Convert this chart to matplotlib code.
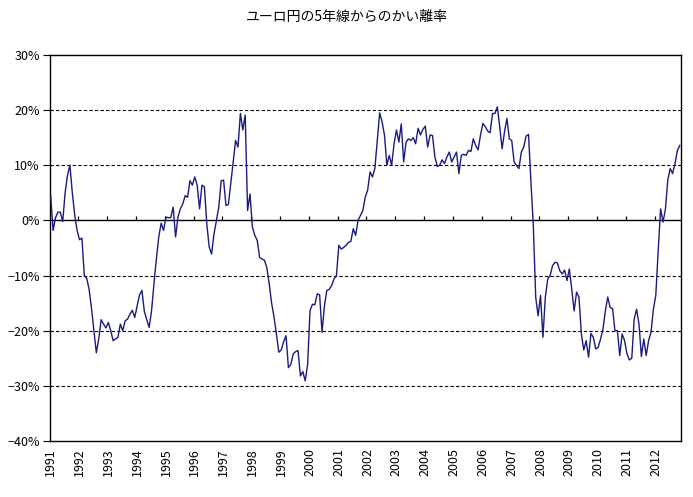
import numpy as np
import matplotlib
matplotlib.use("Agg")
import matplotlib.pyplot as plt

plt.rcParams['font.family'] = ['Noto Sans CJK JP', 'DejaVu Sans']

# ユーロ円の5年移動平均線からのかい離率 (%), 月次, 1991年1月から
dev_1991 = [4.4, -1.8, 0.5, 1.5, 1.5, -0.2, 5, 8.2, 10, 5, 1, -1.8]
dev_1992 = [-3.5, -3.2, -10, -10.5, -12.5, -16, -20, -24, -21.5, -18, -18.8, -19.5]
dev_1993 = [-18.5, -20, -21.8, -21.5, -21.2, -18.8, -20, -18.2, -17.9, -17, -16.3, -17.6]
dev_1994 = [-15.5, -13.5, -12.7, -16.5, -18, -19.4, -16.4, -11.5, -7, -3, -0.5, -1.8]
dev_1995 = [0.6, 0.5, 0.5, 2.4, -3, 0.6, 2.1, 3, 4.5, 4.2, 7.2, 6.4]
dev_1996 = [7.9, 6.4, 2.1, 6.4, 6.1, -0.6, -4.8, -6.1, -2.5, 0, 2.4, 7.2]
dev_1997 = [7.3, 2.7, 2.9, 6.7, 10.6, 14.5, 13.3, 19.4, 16.4, 19.1, 1.8, 4.8]
dev_1998 = [-1.2, -2.7, -3.6, -6.7, -7, -7.2, -8.5, -11.5, -15, -17.5, -20.6, -23.9]
dev_1999 = [-23.5, -22, -20.9, -26.7, -26.1, -24.2, -23.8, -23.6, -28.2, -27.4, -29.1, -26.1]
dev_2000 = [-16.4, -15.2, -15.3, -13.3, -13.5, -20.3, -15.5, -12.7, -12.5, -11.8, -10.6, -10]
dev_2001 = [-4.5, -5.2, -4.9, -4.5, -4, -3.8, -1.5, -2.7, 0, 0.9, 1.8, 4.2]
dev_2002 = [5.5, 8.8, 7.9, 9.4, 14.5, 19.5, 17.9, 15.5, 10, 11.8, 10, 13.9]
dev_2003 = [16.4, 14.2, 17.5, 10.6, 14.2, 14.8, 14.5, 15, 13.9, 16.7, 15.5, 16.5]
dev_2004 = [17.1, 13.3, 15.5, 15.4, 11.5, 9.8, 10, 11, 10.3, 11.5, 12.4, 10.6]
dev_2005 = [11.5, 12.4, 8.5, 11.8, 12, 11.8, 12.7, 12.5, 14.8, 13.6, 12.8, 15.5]
dev_2006 = [17.6, 17, 16.2, 15.9, 19.4, 19.4, 20.6, 17, 13, 16.1, 18.5, 14.8]
dev_2007 = [14.5, 10.6, 10, 9.4, 12.4, 13.3, 15.3, 15.6, 7, -1, -14, -17.3]
dev_2008 = [-13.6, -21.2, -13.9, -10.6, -10, -8.2, -7.6, -7.7, -9.1, -9.7, -9, -10.9]
dev_2009 = [-8.8, -12.5, -16.4, -13, -13.9, -20.5, -23.5, -21.8, -24.8, -20.5, -21.2, -23.3]
dev_2010 = [-23, -21.5, -19.7, -16.4, -13.9, -15.8, -16, -20, -20, -24.5, -20.6, -21.8]
dev_2011 = [-24.2, -25.3, -25, -17.9, -16.1, -18.8, -24.7, -21.5, -24.5, -21.8, -20.3, -16.1]
dev_2012 = [-13.6, -5.5, 2.1, -0.3, 2, 7.3, 9.4, 8.5, 10.3, 12.7, 13.6]

years = list(range(1991, 2013))
yearly = [dev_1991, dev_1992, dev_1993, dev_1994, dev_1995, dev_1996, dev_1997,
          dev_1998, dev_1999, dev_2000, dev_2001, dev_2002, dev_2003, dev_2004,
          dev_2005, dev_2006, dev_2007, dev_2008, dev_2009, dev_2010, dev_2011,
          dev_2012]
values = np.concatenate(yearly)
x = np.arange(len(values))

fig = plt.figure(figsize=(6.93, 4.97), dpi=100)
ax = fig.add_axes([49.5 / 693, 56 / 497, 631.5 / 693, 386 / 497])

# 目盛線
for v in [-30, -20, -10, 10, 20]:
    ax.axhline(v, color='black', lw=0.8, ls=(0, (3, 2)), zorder=1)
ax.axhline(0, color='black', lw=1.0, zorder=2)

ax.plot(x, values, color='#1a1a80', lw=1.0, zorder=3)

# 0%線上の年区切り目盛
bounds = np.arange(12, len(values), 12) - 0.5
ax.vlines(bounds, 0, 0.75, color='black', lw=0.9, zorder=2)

ax.set_xlim(-0.5, len(values) - 0.5)
ax.set_ylim(-40, 30)
ax.set_yticks(np.arange(-40, 31, 10))
ax.set_yticklabels([f'{v}%'.replace('-', '−') for v in range(-40, 31, 10)], fontsize=9)
ax.tick_params(axis='y', length=5, width=0.8, direction='out', pad=2)

ax.set_xticks(np.arange(0, len(values), 12))
ax.set_xticklabels([str(y) for y in years], rotation=90, fontsize=9)
ax.tick_params(axis='x', length=0, pad=5)

for s in ax.spines.values():
    s.set_linewidth(1.0)
    s.set_color('black')

fig.text(0.5, 1 - 17 / 497, 'ユーロ円の5年線からのかい離率', ha='center', va='center', fontsize=10)

fig.savefig('out.png', dpi=100)
